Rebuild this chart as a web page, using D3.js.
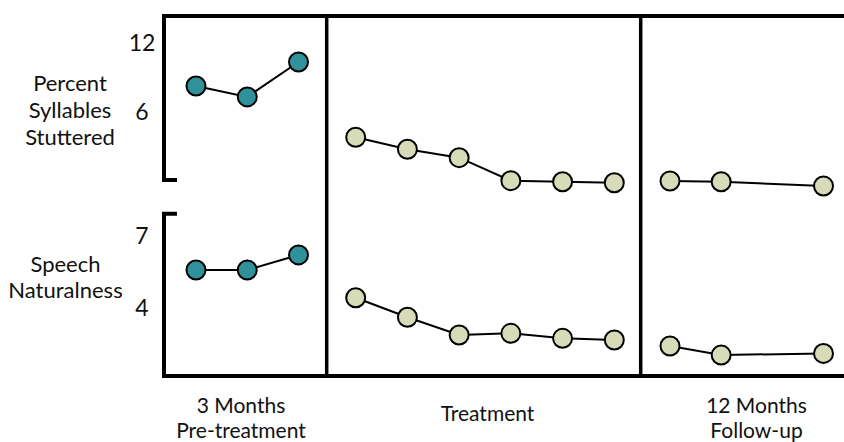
<!DOCTYPE html>
<html>
<head>
<meta charset="utf-8">
<script src="https://cdn.jsdelivr.net/npm/d3@7"></script>
<style>
  html, body { margin: 0; padding: 0; background: #fff; }
  svg { display: block; }
  text { font-family: Lato, "Open Sans", sans-serif; fill: #111; }
</style>
</head>
<body>
<svg id="chart" width="844" height="442"></svg>
<script>
// ---- data ----
const phases = ["3 Months\nPre-treatment", "Treatment", "12 Months\nFollow-up"];
const preSessions = [1, 2, 3];
const treatSessions = [1, 2, 3, 4, 5, 6];
const followSessions = [1, 2, 4];

const pssPre = [8.2, 7.25, 10.3];
const pssTreat = [3.73, 2.68, 1.95, -0.06, -0.15, -0.24];
const pssFollow = [-0.09, -0.15, -0.52];

const natPre = [5.57, 5.57, 6.2];
const natTreat = [4.41, 3.59, 2.85, 2.92, 2.71, 2.64];
const natFollow = [2.39, 2.01, 2.08];

const pssTicks = [12, 6];
const natTicks = [7, 4];
const pssLabel = ["Percent", "Syllables", "Stuttered"];
const natLabel = ["Speech", "Naturalness"];

// ---- layout ----
const svg = d3.select("#chart");
const teal = "#2f929b", pale = "#d8dbb7";

const yPss = d3.scaleLinear().domain([0, 12]).range([180, 42.5]);
const yNat = d3.scaleLinear().domain([4, 7]).range([307.5, 235.8]);

const xPre = d3.scaleLinear().domain([1, 3]).range([196, 298.5]);
const xTreat = d3.scaleLinear().domain([1, 6]).range([355.7, 614.3]);
const xFollow = d3.scaleLinear().domain([1, 4]).range([670, 823.5]);

// frame
const frame = svg.append("g").attr("stroke", "#000").attr("fill", "none").attr("stroke-width", 4);
frame.append("line").attr("x1", 162).attr("x2", 844).attr("y1", 16).attr("y2", 16);
frame.append("line").attr("x1", 162).attr("x2", 844).attr("y1", 376).attr("y2", 376);
frame.append("path").attr("d", "M164,14 V180 H177");
frame.append("path").attr("d", "M177,213.7 H164 V378");
[326.7, 640.7].forEach(x => {
  frame.append("line").attr("x1", x).attr("x2", x).attr("y1", 16).attr("y2", 376).attr("stroke-width", 3.5);
});

// tick labels
svg.append("g").selectAll("text").data(pssTicks).join("text")
  .attr("x", 142).attr("y", d => yPss(d)).attr("dy", "0.36em")
  .attr("text-anchor", "middle").attr("font-size", 23).text(d => d);
svg.append("g").selectAll("text").data(natTicks).join("text")
  .attr("x", 142).attr("y", d => yNat(d)).attr("dy", "0.36em")
  .attr("text-anchor", "middle").attr("font-size", 23).text(d => d);

// axis titles
svg.append("g").selectAll("text").data(pssLabel).join("text")
  .attr("x", 70).attr("y", (d, i) => 90.5 + i * 27)
  .attr("text-anchor", "middle").attr("font-size", 22).text(d => d);
svg.append("g").selectAll("text").data(natLabel).join("text")
  .attr("x", 65.5).attr("y", (d, i) => 271.5 + i * 26)
  .attr("text-anchor", "middle").attr("font-size", 22).text(d => d);

// phase labels
const phaseX = [241, 487.5, 756.5];
phases.forEach((p, i) => {
  const lines = p.split("\n");
  const y0 = lines.length === 1 ? 420.5 : 412.5;
  lines.forEach((l, j) => {
    svg.append("text").attr("x", phaseX[i]).attr("y", y0 + j * 25)
      .attr("text-anchor", "middle").attr("font-size", 21).text(l);
  });
});

// series
function series(xs, vals, xScale, yScale, fill) {
  const pts = xs.map((s, i) => [xScale(s), yScale(vals[i])]);
  const g = svg.append("g");
  g.append("path").attr("d", d3.line()(pts))
    .attr("fill", "none").attr("stroke", "#000").attr("stroke-width", 2);
  g.selectAll("circle").data(pts).join("circle")
    .attr("cx", d => d[0]).attr("cy", d => d[1]).attr("r", 9.5)
    .attr("fill", fill).attr("stroke", "#000").attr("stroke-width", 2);
}
series(preSessions, pssPre, xPre, yPss, teal);
series(treatSessions, pssTreat, xTreat, yPss, pale);
series(followSessions, pssFollow, xFollow, yPss, pale);
series(preSessions, natPre, xPre, yNat, teal);
series(treatSessions, natTreat, xTreat, yNat, pale);
series(followSessions, natFollow, xFollow, yNat, pale);
</script>
</body>
</html>
